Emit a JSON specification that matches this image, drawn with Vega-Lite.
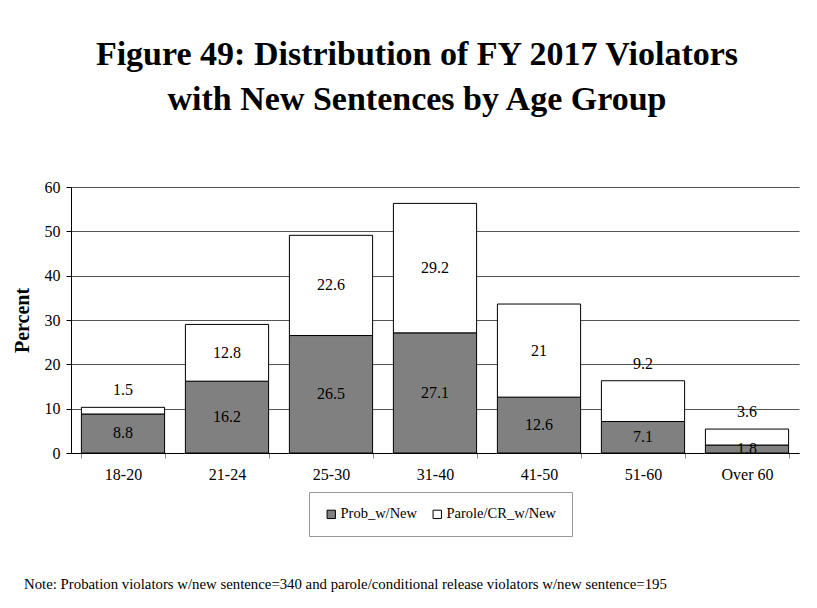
{
  "$schema": "https://vega.github.io/schema/vega-lite/v6.json",
  "background": "white",
  "padding": {"left": 12, "top": 38, "right": 5, "bottom": 5},
  "title": {
    "text": "Note: Probation violators w/new sentence=340 and parole/conditional release violators w/new sentence=195",
    "orient": "bottom",
    "anchor": "start",
    "frame": "bounds",
    "dx": 12,
    "offset": 40,
    "font": "Liberation Serif",
    "fontSize": 14.8,
    "fontWeight": "normal",
    "color": "black"
  },
  "config": {
    "view": {"stroke": null},
    "font": "Liberation Serif"
  },
  "vconcat": [
    {
      "width": 728,
      "height": 266,
      "title": {
        "text": ["Figure 49: Distribution of FY 2017 Violators", "with New Sentences by Age Group"],
        "anchor": "middle",
        "font": "Liberation Serif",
        "fontSize": 34,
        "fontWeight": "bold",
        "lineHeight": 45,
        "color": "black",
        "offset": 62,
        "dx": -18
      },
      "data": {
        "values": [
          {"age": "18-20", "series": "Prob_w/New", "value": 8.8},
          {"age": "18-20", "series": "Parole/CR_w/New", "value": 1.5},
          {"age": "21-24", "series": "Prob_w/New", "value": 16.2},
          {"age": "21-24", "series": "Parole/CR_w/New", "value": 12.8},
          {"age": "25-30", "series": "Prob_w/New", "value": 26.5},
          {"age": "25-30", "series": "Parole/CR_w/New", "value": 22.6},
          {"age": "31-40", "series": "Prob_w/New", "value": 27.1},
          {"age": "31-40", "series": "Parole/CR_w/New", "value": 29.2},
          {"age": "41-50", "series": "Prob_w/New", "value": 12.6},
          {"age": "41-50", "series": "Parole/CR_w/New", "value": 21},
          {"age": "51-60", "series": "Prob_w/New", "value": 7.1},
          {"age": "51-60", "series": "Parole/CR_w/New", "value": 9.2},
          {"age": "Over 60", "series": "Prob_w/New", "value": 1.8},
          {"age": "Over 60", "series": "Parole/CR_w/New", "value": 3.6}
        ]
      },
      "transform": [
        {"stack": "value", "groupby": ["age"], "sort": [{"field": "series", "order": "descending"}], "as": ["y0", "y1"]},
        {"calculate": "datum.series == 'Prob_w/New' ? (datum.y0 + datum.y1) / 2 : (datum.value < 10 ? datum.y1 + 3.8 : (datum.y0 + datum.y1) / 2)", "as": "labelY"}
      ],
      "encoding": {
        "x": {
          "field": "age",
          "type": "nominal",
          "sort": null,
          "scale": {"paddingInner": 0.2, "paddingOuter": 0.1},
          "axis": {
            "title": null,
            "labelAngle": 0,
            "labelFont": "Liberation Serif",
            "labelFontSize": 16,
            "labelColor": "black",
            "labelPadding": 8,
            "domainColor": "black",
            "tickColor": "#888",
            "tickSize": 5,
            "tickBand": "extent",
            "grid": false
          }
        }
      },
      "layer": [
        {
          "mark": {"type": "bar", "stroke": "black", "strokeWidth": 1},
          "encoding": {
            "y": {
              "field": "y0",
              "type": "quantitative",
              "scale": {"domain": [0, 60]},
              "axis": {
                "title": "Percent",
                "titleFont": "Liberation Serif",
                "titleFontSize": 20,
                "titleFontWeight": "bold",
                "titleColor": "black",
                "titlePadding": 12,
                "values": [0, 10, 20, 30, 40, 50, 60],
                "labelFont": "Liberation Serif",
                "labelFontSize": 16,
                "labelColor": "black",
                "labelPadding": 6,
                "domainColor": "black",
                "tickColor": "black",
                "tickSize": 5,
                "grid": true,
                "gridColor": "#555",
                "gridWidth": 1
              }
            },
            "y2": {"field": "y1"},
            "color": {
              "field": "series",
              "type": "nominal",
              "scale": {"domain": ["Prob_w/New", "Parole/CR_w/New"], "range": ["#808080", "#ffffff"]},
              "legend": {
                "title": null,
                "orient": "none",
                "legendX": 238,
                "legendY": 305,
                "direction": "horizontal",
                "strokeColor": "#999",
                "fillColor": "white",
                "padding": 15,
                "columnPadding": 12,
                "labelFont": "Liberation Serif",
                "labelFontSize": 14.5,
                "labelColor": "black",
                "labelOffset": 2,
                "symbolType": "square",
                "symbolSize": 70,
                "symbolStrokeColor": "black",
                "symbolStrokeWidth": 1,
                "symbolOpacity": 1
              }
            }
          }
        },
        {
          "mark": {"type": "text", "font": "Liberation Serif", "fontSize": 16, "color": "black", "baseline": "middle", "align": "center"},
          "encoding": {
            "y": {"field": "labelY", "type": "quantitative"},
            "text": {"field": "value", "type": "quantitative"}
          }
        }
      ]
    }
  ]
}
